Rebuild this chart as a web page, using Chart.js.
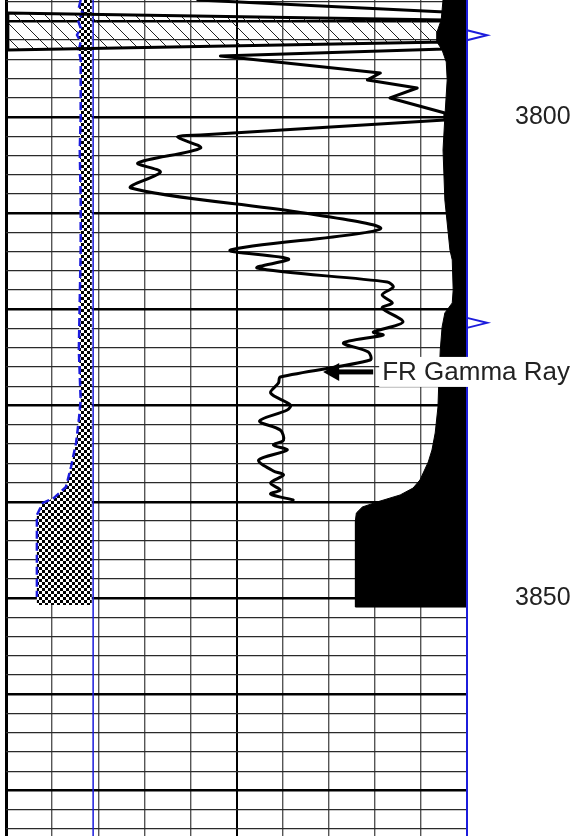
<!DOCTYPE html>
<html>
<head>
<meta charset="utf-8">
<title>FR Gamma Ray</title>
<script src="https://cdn.jsdelivr.net/npm/chart.js@4/dist/chart.umd.min.js"></script>
<style>
  html, body { margin: 0; padding: 0; background: #fff; }
  canvas { display: block; }
</style>
</head>
<body>
<canvas id="logChart" width="578" height="836"></canvas>
<script>
// depth window, labelled depths and the two marker depths
const depthTop = 3787.84;
const depthBottom = 3874.74;
const depthLabels = [3800, 3850];
const markerDepths = [3791.5, 3821.4];

// FR Gamma Ray (grid divisions 0-10)
const grDepth = [3787.84, 3789.09, 3789.92, 3789.19, 3793.04, 3792.20, 3792.93, 3793.66, 3795.43, 3796.15,
  3796.99, 3798.02, 3799.58, 3800.31, 3801.87, 3802.08, 3803.22, 3804.78, 3805.72, 3807.38,
  3809.88, 3811.64, 3813.83, 3814.76, 3815.70, 3817.15, 3817.67, 3818.50, 3819.33, 3819.85,
  3821.31, 3822.35, 3822.66, 3823.49, 3824.43, 3825.26, 3827.03, 3827.65, 3828.69, 3829.94,
  3830.46, 3831.60, 3832.54, 3833.58, 3834.10, 3834.62, 3835.66, 3836.80, 3837.21, 3838.05,
  3838.77, 3839.19, 3839.81];
const grValue = [4.16, 9.52, 9.52, 0.04, 0.04, 9.52, 9.52, 4.65, 8.12, 7.84,
  8.92, 8.33, 9.52, 9.52, 4.22, 3.72, 4.22, 2.86, 3.35, 2.71,
  6.32, 8.12, 4.87, 6.13, 5.45, 8.27, 8.40, 8.16, 8.38, 8.16,
  8.61, 7.97, 8.18, 7.32, 7.86, 7.90, 5.95, 5.91, 5.74, 6.17,
  6.10, 5.50, 5.95, 6.02, 5.80, 6.10, 5.48, 5.80, 6.02, 5.74,
  5.95, 5.74, 6.23];
// the upper part of the trace is drawn with sharp corners
const grSharpEnd = 14;

// hatched bed where the trace runs off scale
const hatchDepth = [3789.19, 3789.92, 3792.20, 3793.04];
const hatchValue = [0.04, 9.52, 9.52, 0.04];

// black filled curve on the right
const calDepth = [3787.84, 3789.92, 3791.16, 3792.20, 3793.04, 3794.28, 3796.15, 3800.00, 3803.43, 3808.63,
  3813.83, 3814.86, 3817.98, 3819.33, 3820.37, 3821.83, 3824.22, 3827.34, 3830.15, 3832.85,
  3834.62, 3835.86, 3837.73, 3838.57, 3839.29, 3840.02, 3840.54, 3841.16, 3841.89, 3850.94];
const calValue = [9.48, 9.44, 9.35, 9.35, 9.46, 9.55, 9.57, 9.52, 9.48, 9.52,
  9.63, 9.68, 9.70, 9.68, 9.52, 9.46, 9.42, 9.39, 9.37, 9.31,
  9.24, 9.16, 8.98, 8.83, 8.55, 8.05, 7.73, 7.60, 7.58, 7.58];

// blue dashed curve with checkered shading
const spDepth = [3787.84, 3788.67, 3789.19, 3789.92, 3790.75, 3791.48, 3792.20, 3793.04, 3794.07, 3800.00,
  3803.43, 3808.63, 3813.83, 3819.02, 3824.22, 3829.42, 3831.50, 3833.89, 3836.38, 3838.46,
  3839.60, 3840.12, 3841.37, 3849.90];
const spValue = [1.62, 1.58, 1.67, 1.56, 1.62, 1.54, 1.62, 1.58, 1.62, 1.62,
  1.60, 1.62, 1.62, 1.60, 1.58, 1.62, 1.58, 1.52, 1.41, 1.30,
  1.04, 0.80, 0.67, 0.67];
const shadeBase = 1.86;
const shadeBottom = 3850.73;
const blueLineValue = 1.89;

// call-out
const calloutText = 'FR Gamma Ray';
const calloutDepth = 3826.5;
const calloutValue = 6.88;

const BLUE = '#1c1cdc';
const FONT = '"Liberation Sans", Arial, sans-serif';

function pts(xs, ys) {
    return xs.map((v, i) => ({ x: v, y: ys[i] }));
}

function hatchPattern() {
    const c = document.createElement('canvas');
    c.width = 15; c.height = 15;
    const g = c.getContext('2d');
    g.strokeStyle = '#222';
    g.lineWidth = 1;
    g.beginPath();
    g.moveTo(-1, -1); g.lineTo(16, 16);
    g.moveTo(-8, 7); g.lineTo(8, 23);
    g.moveTo(7, -8); g.lineTo(23, 8);
    g.stroke();
    return g.createPattern(c, 'repeat');
}

function checkerPattern() {
    const c = document.createElement('canvas');
    c.width = 6; c.height = 6;
    const g = c.getContext('2d');
    g.fillStyle = '#fff';
    g.fillRect(0, 0, 6, 6);
    g.fillStyle = '#000';
    g.fillRect(0, 0, 3, 3);
    g.fillRect(3, 3, 3, 3);
    return g.createPattern(c, 'repeat');
}

const grPoints = pts(grValue, grDepth);
const calPolygon = pts(calValue, calDepth).concat([
    { x: 10, y: calDepth[calDepth.length - 1] },
    { x: 10, y: calDepth[0] }
]);
const shadePolygon = pts(spValue, spDepth).concat([
    { x: spValue[spValue.length - 1], y: shadeBottom },
    { x: shadeBase, y: shadeBottom },
    { x: shadeBase, y: depthTop }
]);

// call-out arrow, depth markers, right border
const logExtras = {
    id: 'logExtras',
    afterDatasetsDraw(chart) {
        const { ctx, chartArea, scales: { x, y } } = chart;
        ctx.save();
        ctx.strokeStyle = BLUE;
        ctx.lineWidth = 2;
        ctx.beginPath();
        ctx.moveTo(chartArea.right, chartArea.top);
        ctx.lineTo(chartArea.right, chartArea.bottom);
        ctx.stroke();

        const ay = y.getPixelForValue(calloutDepth);
        const tipX = x.getPixelForValue(calloutValue);
        ctx.fillStyle = '#000';
        ctx.beginPath();
        ctx.moveTo(tipX, ay);
        ctx.lineTo(tipX + 16, ay - 9);
        ctx.lineTo(tipX + 16, ay + 9);
        ctx.closePath();
        ctx.fill();
        ctx.fillRect(tipX + 14, ay - 2.5, 36, 5);

        ctx.font = '26px ' + FONT;
        const w = ctx.measureText(calloutText).width;
        ctx.fillStyle = '#fff';
        ctx.fillRect(tipX + 56, ay - 15, w + 6, 30);
        ctx.fillStyle = '#222';
        ctx.textBaseline = 'middle';
        ctx.fillText(calloutText, tipX + 59, ay + 1);
        ctx.restore();
    },
    afterDraw(chart) {
        const { ctx, chartArea, scales: { y } } = chart;
        ctx.save();
        ctx.strokeStyle = BLUE;
        ctx.lineWidth = 2;
        markerDepths.forEach(d => {
            const py = y.getPixelForValue(d);
            ctx.beginPath();
            ctx.moveTo(chartArea.right, py - 5);
            ctx.lineTo(chartArea.right + 20, py);
            ctx.lineTo(chartArea.right, py + 5);
            ctx.stroke();
        });
        ctx.restore();
    }
};

const grStyle = {
    borderColor: '#000',
    borderWidth: 3,
    borderCapStyle: 'round',
    borderJoinStyle: 'round',
    pointRadius: 0,
    fill: false
};

new Chart(document.getElementById('logChart'), {
    type: 'line',
    data: {
        datasets: [
            Object.assign({ label: calloutText, data: grPoints.slice(0, grSharpEnd), tension: 0 }, grStyle),
            Object.assign({ label: calloutText + ' (lower)', data: grPoints.slice(grSharpEnd - 1), tension: 0.3 }, grStyle),
            {
                label: 'dashed',
                data: pts(spValue, spDepth),
                borderColor: BLUE,
                borderWidth: 2.5,
                borderDash: [8, 4],
                pointRadius: 0,
                fill: false
            },
            {
                label: 'blue line',
                data: [{ x: blueLineValue, y: depthTop }, { x: blueLineValue, y: depthBottom }],
                borderColor: BLUE,
                borderWidth: 1.5,
                pointRadius: 0,
                fill: false
            },
            {
                label: 'fill right',
                data: calPolygon,
                borderColor: '#000',
                borderWidth: 1,
                backgroundColor: '#000',
                pointRadius: 0,
                fill: 'shape'
            },
            {
                label: 'checker',
                data: shadePolygon,
                borderWidth: 0,
                borderColor: 'rgba(0,0,0,0)',
                backgroundColor: checkerPattern(),
                pointRadius: 0,
                fill: 'shape'
            },
            {
                label: 'hatch',
                data: pts(hatchValue, hatchDepth),
                borderWidth: 0,
                borderColor: 'rgba(0,0,0,0)',
                backgroundColor: hatchPattern(),
                pointRadius: 0,
                fill: 'shape'
            }
        ]
    },
    options: {
        responsive: false,
        animation: false,
        layout: { padding: { left: 6, right: 0, top: 0, bottom: 0 } },
        plugins: {
            legend: { display: false },
            tooltip: { enabled: false }
        },
        scales: {
            x: {
                type: 'linear',
                min: 0,
                max: 10,
                position: 'bottom',
                border: { display: false },
                ticks: { display: false, stepSize: 1 },
                grid: {
                    drawTicks: false,
                    color: ctx => ctx.tick.value === 10 ? BLUE : (ctx.tick.value % 5 === 0 ? '#000' : '#555'),
                    lineWidth: ctx => ctx.tick.value === 0 ? 3 : (ctx.tick.value === 5 ? 2 : 1.4)
                }
            },
            y: {
                type: 'linear',
                position: 'right',
                reverse: true,
                min: depthTop,
                max: depthBottom,
                border: { display: false },
                ticks: {
                    stepSize: 2,
                    includeBounds: false,
                    autoSkip: false,
                    padding: 48,
                    color: '#222',
                    font: { family: FONT, size: 25 },
                    callback: v => depthLabels.includes(v) ? String(v) : ''
                },
                grid: {
                    drawTicks: false,
                    color: ctx => ctx.tick.value % 10 === 0 ? '#000' : '#2a2a2a',
                    lineWidth: ctx => ctx.tick.value % 10 === 0 ? 2.5 : 1.3
                },
                afterFit: scale => {
                    scale.paddingTop = 0;
                    scale.paddingBottom = 0;
                    scale.width = 111;
                }
            }
        }
    },
    plugins: [logExtras]
});
</script>
</body>
</html>
